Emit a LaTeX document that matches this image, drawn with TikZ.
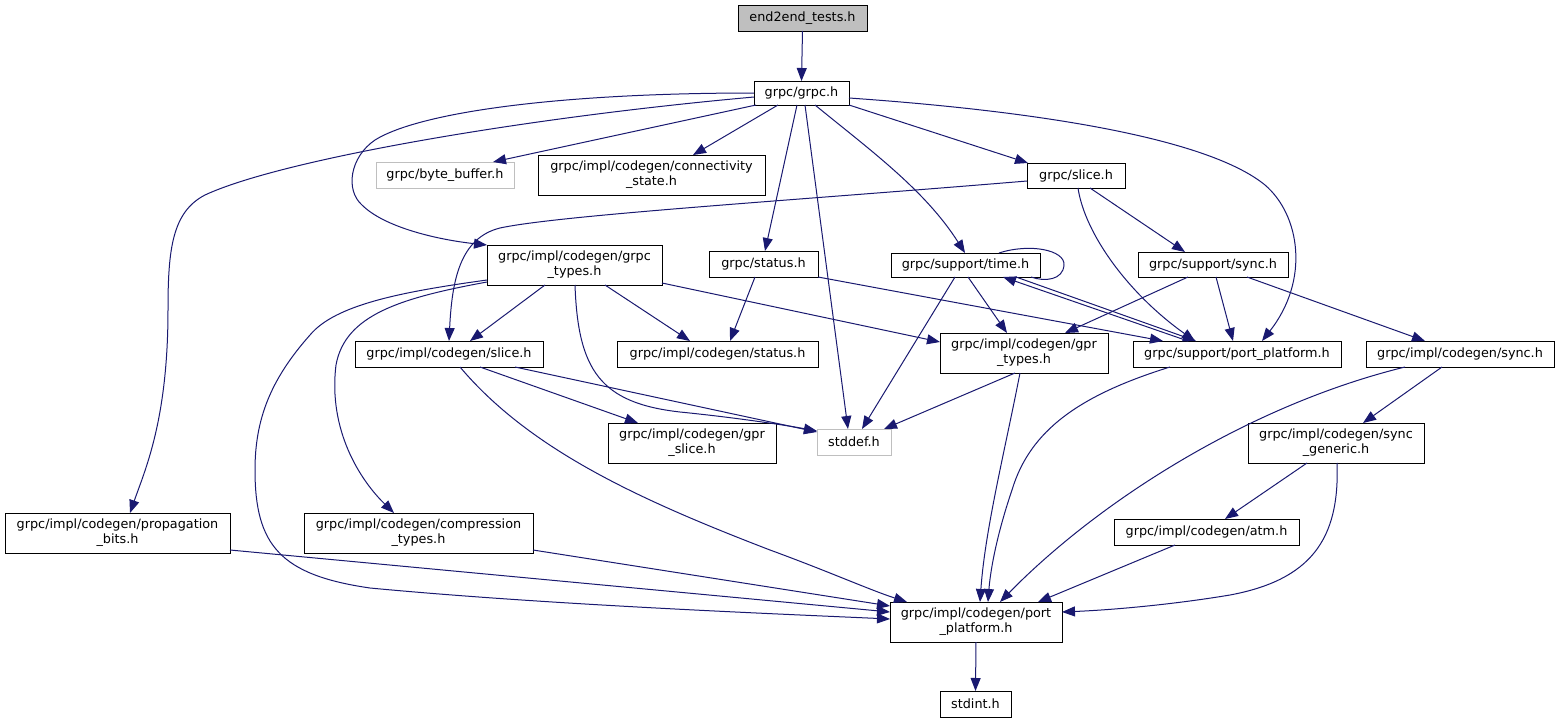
\documentclass[tikz,border=0pt]{standalone}
\usepackage{fontspec}
\setmainfont{DejaVu Sans}
\usetikzlibrary{arrows.meta}
\definecolor{edgeblue}{HTML}{191970}
\definecolor{nodegray}{HTML}{BFBFBF}
\begin{document}
\begin{tikzpicture}[x=1pt,y=-1pt,
  box/.style={draw=black, line width=1pt, inner sep=0pt, outer sep=0pt, align=center,
    font=\fontsize{12.8}{15}\selectfont, text=black},
  gbox/.style={box, draw=nodegray},
  lnk/.style={draw=edgeblue, line width=1pt, -{Triangle[length=13pt,width=10pt]}},
  plain/.style={draw=edgeblue, line width=1pt}]
\fill[white] (0,0) rectangle (1559,723);
\useasboundingbox (0,0) rectangle (1559,723);

% nodes
\node[box, fill=nodegray, minimum width=129pt, minimum height=26pt] (e2e) at (802.5,18) {end2end\_tests.h};
\node[box, minimum width=95pt, minimum height=24pt] (grpc) at (801.5,93) {grpc/grpc.h};
\node[gbox, minimum width=138pt, minimum height=26pt] (bytebuf) at (445,175) {grpc/byte\_buffer.h};
\node[box, minimum width=227pt, minimum height=40pt] (conn) at (651.5,175) {grpc/impl/codegen/connectivity\\\_state.h};
\node[box, minimum width=175pt, minimum height=40pt] (gtypes) at (574.5,265) {grpc/impl/codegen/grpc\\\_types.h};
\node[box, minimum width=109pt, minimum height=26pt] (status) at (763.5,264) {grpc/status.h};
\node[box, minimum width=98pt, minimum height=25pt] (slice) at (1076,175.5) {grpc/slice.h};
\node[box, minimum width=149pt, minimum height=24pt] (time) at (965.5,265) {grpc/support/time.h};
\node[box, minimum width=150pt, minimum height=25pt] (ssync) at (1213,264.5) {grpc/support/sync.h};
\node[box, minimum width=208pt, minimum height=26pt] (spp) at (1237,354) {grpc/support/port\_platform.h};
\node[box, minimum width=188pt, minimum height=26pt] (csync) at (1460,354) {grpc/impl/codegen/sync.h};
\node[box, minimum width=168pt, minimum height=40pt] (gprtypes) at (1024,353) {grpc/impl/codegen/gpr\\\_types.h};
\node[box, minimum width=188pt, minimum height=26pt] (cslice) at (449,354) {grpc/impl/codegen/slice.h};
\node[box, minimum width=201pt, minimum height=26pt] (cstatus) at (717.5,354) {grpc/impl/codegen/status.h};
\node[box, minimum width=168pt, minimum height=40pt] (gprslice) at (692,443) {grpc/impl/codegen/gpr\\\_slice.h};
\node[gbox, minimum width=74pt, minimum height=26pt] (stddef) at (854,442) {stddef.h};
\node[box, minimum width=176pt, minimum height=40pt] (syncgen) at (1336,443) {grpc/impl/codegen/sync\\\_generic.h};
\node[box, minimum width=185pt, minimum height=26pt] (atm) at (1206.5,532) {grpc/impl/codegen/atm.h};
\node[box, minimum width=225pt, minimum height=40pt] (prop) at (117.5,533) {grpc/impl/codegen/propagation\\\_bits.h};
\node[box, minimum width=229pt, minimum height=40pt] (comp) at (418.5,533) {grpc/impl/codegen/compression\\\_types.h};
\node[box, minimum width=172pt, minimum height=40pt] (cpp) at (976,622) {grpc/impl/codegen/port\\\_platform.h};
\node[box, minimum width=71pt, minimum height=26pt] (stdint) at (975.5,704) {stdint.h};

% edges
\draw[lnk] (e2e.south) -- (grpc.north);
\draw[lnk] ([xshift=2pt]grpc.south west) -- ([xshift=117pt]bytebuf.north west);
\draw[lnk] ([xshift=24pt]grpc.south west) -- ([xshift=155pt]conn.north west);
\draw[lnk] (grpc.west) .. controls (560,93) and (420,112) .. (375,140)
  .. controls (350,157) and (345,190) .. (362,205)
  .. controls (385,228) and (440,240) .. (gtypes.north west);
\draw[lnk] ([yshift=-4pt]grpc.west) .. controls (520,118) and (280,160) .. (205,195)
  .. controls (172,212) and (168,250) .. (168,310)
  .. controls (168,420) and (145,470) .. ([xshift=125pt]prop.north west);
\draw[lnk] ([xshift=43pt]grpc.south west) -- ([xshift=56pt]status.north west);
\draw[lnk] ([xshift=51pt]grpc.south west) -- ([xshift=31pt]stddef.north west);
\draw[lnk] ([xshift=61pt]grpc.south west) .. controls (870,150) and (925,190) .. ([xshift=74pt]time.north west);
\draw[lnk] (grpc.south east) -- ([xshift=1pt]slice.north west);
\draw[lnk] ([yshift=-17pt]grpc.north east) .. controls (1050,112) and (1210,140) .. (1265,185)
  .. controls (1300,215) and (1310,280) .. ([xshift=129pt]spp.north west);
\draw[lnk] ([yshift=-5.5pt]slice.west) .. controls (800,200) and (560,215) .. (500,228)
  .. controls (460,238) and (452,280) .. (cslice.north);
\draw[lnk] ([xshift=63pt]slice.south west) -- ([xshift=47pt]ssync.north west);
\draw[lnk] ([xshift=51pt]slice.south west) .. controls (1085,235) and (1130,295) .. ([xshift=62pt]spp.north west);
\draw[lnk] ([xshift=58pt]gtypes.south west) -- ([xshift=115pt]cslice.north west);
\draw[lnk] ([xshift=118pt]gtypes.south west) -- ([xshift=73pt]cstatus.north west);
\draw[lnk] ([xshift=88pt]gtypes.south west) .. controls (578,370) and (600,403) .. (680,412)
  .. controls (740,418) and (790,426) .. ([yshift=-2pt]stddef.north west);
\draw[lnk] ([yshift=2pt]gtypes.south east) -- ([yshift=-9pt]gprtypes.north west);
\draw[lnk] ([yshift=3pt]gtypes.south west) .. controls (400,298) and (345,315) .. (336,365)
  .. controls (328,430) and (360,480) .. ([xshift=90pt]comp.north west);
\draw[lnk] ([yshift=5pt]gtypes.south west) .. controls (400,292) and (335,305) .. (310,335)
  .. controls (270,380) and (255,420) .. (255,470)
  .. controls (255,545) and (280,575) .. (370,588)
  .. controls (550,605) and (780,614) .. ([yshift=-17pt]cpp.north west);
\draw[lnk] ([xshift=46pt]status.south west) -- ([xshift=113pt]cstatus.north west);
\draw[lnk] (status.south east) -- ([xshift=30pt]spp.north west);
\draw[plain] ([xshift=108pt]time.north west) .. controls (1030,243) and (1065,250) .. (1064,265)
  .. controls (1063,280) and (1045,282) .. ([xshift=140pt]time.south west);
\draw[lnk] ([xshift=55pt]spp.north west) -- ([xshift=112pt]time.south west);
\draw[lnk] ([xshift=125pt]time.south west) -- ([xshift=63pt]spp.north west);
\draw[lnk] ([xshift=64pt]time.south west) -- ([xshift=45pt]stddef.north west);
\draw[lnk] ([xshift=77pt]time.south west) -- ([xshift=67pt]gprtypes.north west);
\draw[lnk] ([xshift=50pt]ssync.south west) -- ([xshift=125pt]gprtypes.north west);
\draw[lnk] ([xshift=78pt]ssync.south west) -- ([xshift=100pt]spp.north west);
\draw[lnk] ([xshift=109pt]ssync.south west) -- ([xshift=59pt]csync.north west);
\draw[lnk] ([xshift=125pt]cslice.south west) -- ([xshift=30pt]gprslice.north west);
\draw[lnk] ([xshift=160pt]cslice.south west) -- ([yshift=-3pt]stddef.north west);
\draw[lnk] ([xshift=105pt]cslice.south west) .. controls (530,450) and (640,500) .. (770,550)
  .. controls (830,572) and (870,590) .. ([xshift=17pt]cpp.north west);
\draw[lnk] ([xshift=75pt]gprtypes.south west) -- ([xshift=67pt]stddef.north west);
\draw[lnk] ([xshift=80pt]gprtypes.south west) .. controls (1005,450) and (985,530) .. ([xshift=90pt]cpp.north west);
\draw[lnk] ([xshift=37pt]spp.south west) .. controls (1080,395) and (1030,430) .. (1012,490)
  .. controls (995,540) and (990,575) .. ([xshift=98pt]cpp.north west);
\draw[lnk] ([xshift=39pt]csync.south west) .. controls (1250,405) and (1100,500) .. ([xshift=110pt]cpp.north west);
\draw[lnk] ([xshift=76pt]csync.south west) -- ([xshift=115pt]syncgen.north west);
\draw[lnk] ([xshift=59pt]syncgen.south west) -- ([xshift=111pt]atm.north west);
\draw[lnk] ([xshift=89pt]syncgen.south west) .. controls (1340,540) and (1310,580) .. (1230,595)
  .. controls (1170,605) and (1110,610) .. ([yshift=-10pt]cpp.north east);
\draw[lnk] ([xshift=61pt]atm.south west) -- ([xshift=148pt]cpp.north west);
\draw[lnk] ([yshift=3pt]prop.south east) -- ([yshift=-10pt]cpp.north west);
\draw[lnk] ([yshift=3pt]comp.south east) -- ([yshift=-4pt]cpp.north west);
\draw[lnk] (cpp.south) -- (stdint.north);
\end{tikzpicture}
\end{document}
